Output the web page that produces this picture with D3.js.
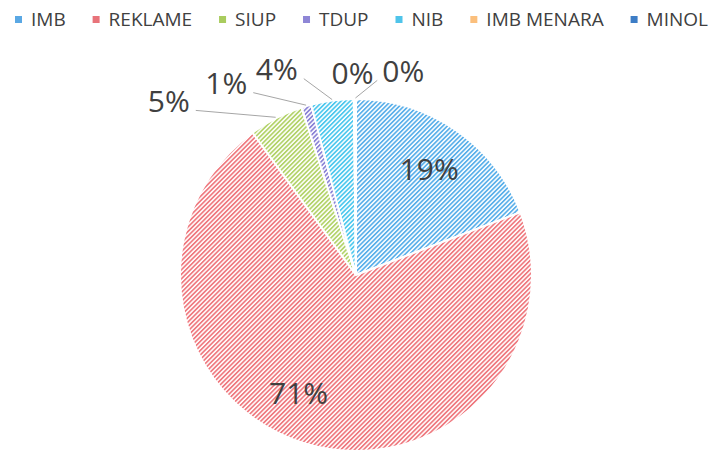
<!DOCTYPE html>
<html>
<head>
<meta charset="utf-8">
<script src="https://cdn.jsdelivr.net/npm/d3@7"></script>
<style>
	body{ margin:0; background:#fff; }
	svg{ display:block; }
	text{ font-family: "Open Sans", sans-serif; fill:#404040; }
</style>
</head>
<body>
<svg id="chart"></svg>
<script>
var w = 712,
	h = 452;

// data
var categories = ["IMB", "REKLAME", "SIUP", "TDUP", "NIB", "IMB MENARA", "MINOL"];
var values = [19.2, 70.8, 5.0, 0.9, 3.9, 0.1, 0.1];
var colors = ["#5bb0ea", "#ef7a80", "#b3d36a", "#8b83d6", "#4ec8ee", "#fbc07e", "#3f7fc8"];
var legendColors = ["#5aa8e4", "#e8737a", "#a9cc5e", "#8e86d6", "#4fc4ea", "#fbbf7c", "#3d7dc6"];

// label placement: angle in degrees from 12 o'clock (null = slice middle), radius, leader on/off
var labelAngle = [null, 206, 313, 326, 339, 359, 13];
var labelRadius = [129, 131, 256, 232, 221, 203, 210];
var leader = [false, false, true, true, true, false, true];

var cx = 356, cy = 275, radius = 176;

function init(){
	var svg = d3.select("#chart").attr("width", w).attr("height", h);
	var defs = svg.append("defs");

	// striped fills
	colors.forEach(function(c, i){
		var p = defs.append("pattern")
			.attr("id", "hatch" + i)
			.attr("patternUnits", "userSpaceOnUse")
			.attr("width", 3.2).attr("height", 3.2)
			.attr("patternTransform", "rotate(45)");
		p.append("rect").attr("width", 3.2).attr("height", 3.2).attr("fill", "#fff");
		p.append("rect").attr("width", 1.7).attr("height", 3.2).attr("fill", c);
	});

	var data = categories.map(function(c, i){ return {name:c, value:values[i], i:i}; });
	var pie = d3.pie().sort(null).value(function(d){ return d.value; });
	var arcs = pie(data);
	var arc = d3.arc().innerRadius(0).outerRadius(radius);

	var g = svg.append("g").attr("transform", "translate(" + cx + "," + cy + ")");

	g.selectAll("path.slice").data(arcs).enter().append("path")
		.attr("class", "slice")
		.attr("d", arc)
		.attr("fill", function(d){ return "url(#hatch" + d.data.i + ")"; })
		.attr("stroke", "#fff")
		.attr("stroke-width", 2);

	var pct = d3.format(".0%");
	var total = d3.sum(values);

	function labelPos(d){
		var i = d.data.i;
		var a = labelAngle[i] == null ? (d.startAngle + d.endAngle) / 2 : labelAngle[i] * Math.PI / 180;
		var r = labelRadius[i];
		return [r * Math.sin(a), -r * Math.cos(a)];
	}

	// leader lines
	g.selectAll("line.leader").data(arcs.filter(function(d){ return leader[d.data.i]; })).enter().append("line")
		.attr("class", "leader")
		.attr("x1", function(d){ var a = (d.startAngle + d.endAngle) / 2; return (radius + 1) * Math.sin(a); })
		.attr("y1", function(d){ var a = (d.startAngle + d.endAngle) / 2; return -(radius + 1) * Math.cos(a); })
		.attr("x2", function(d){ var p = labelPos(d); return p[0] + (p[0] < 0 ? 27 : -26); })
		.attr("y2", function(d){ var p = labelPos(d); return p[1] + 10; })
		.attr("stroke", "#a6a6a6")
		.attr("stroke-width", 1);

	g.selectAll("text.lbl").data(arcs).enter().append("text")
		.attr("class", "lbl")
		.attr("x", function(d){ return labelPos(d)[0]; })
		.attr("y", function(d){ return labelPos(d)[1]; })
		.attr("text-anchor", "middle")
		.attr("dominant-baseline", "central")
		.style("font-size", "30px")
		.text(function(d){ return pct(d.data.value / total); });

	// legend
	var leg = svg.append("g").attr("class", "legend");
	var items = leg.selectAll("g").data(data).enter().append("g");
	items.append("rect")
		.attr("width", 7).attr("height", 7)
		.attr("y", 16)
		.attr("fill", function(d){ return legendColors[d.i]; });
	items.append("text")
		.attr("x", 16)
		.attr("y", 26)
		.style("font-size", "19px")
		.text(function(d){ return d.name; });

	var widths = [];
	items.each(function(){ widths.push(d3.select(this).select("text").node().getComputedTextLength()); });
	var left = 15, right = 708;
	var used = d3.sum(widths) + 16 * widths.length;
	var gap = (right - left - used) / (widths.length - 1);
	var x = left;
	items.attr("transform", function(d, i){
		var t = "translate(" + x + ",0)";
		x += 16 + widths[i] + gap;
		return t;
	});
}
init();
</script>
</body>
</html>
